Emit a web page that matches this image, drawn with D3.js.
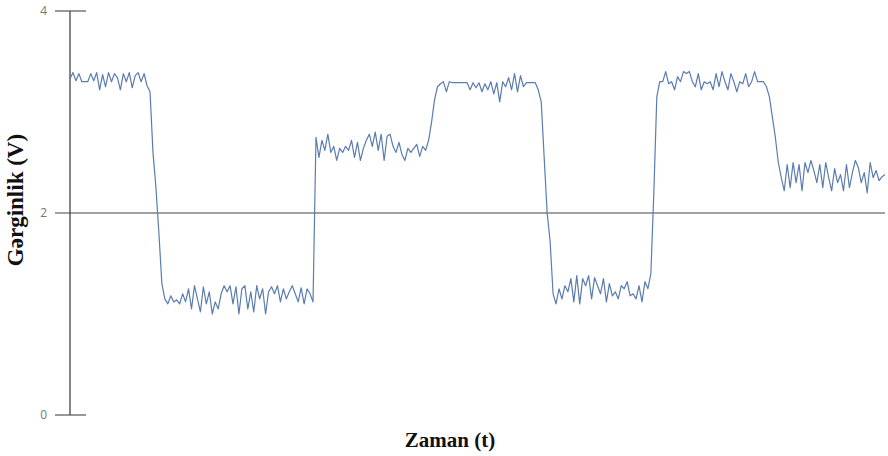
<!DOCTYPE html>
<html>
<head>
<meta charset="utf-8">
<script src="https://cdn.jsdelivr.net/npm/d3@7"></script>
<style>
  html, body { margin: 0; padding: 0; background: #fff; }
  svg { display: block; }
</style>
</head>
<body>
<div id="chart"></div>
<script>
// voltage readings, one block per section of the trace
const high1 = [3.33, 3.39, 3.31, 3.38, 3.30, 3.30, 3.30, 3.38, 3.31, 3.39, 3.22, 3.37, 3.25, 3.39, 3.30, 3.38, 3.34, 3.22, 3.38, 3.30, 3.39, 3.24, 3.36, 3.39, 3.30, 3.38, 3.26];
const fall1 = [3.2, 2.6, 2.25, 1.8, 1.3];
const low1 = [1.15, 1.10, 1.18, 1.12, 1.14, 1.10, 1.20, 1.12, 1.25, 1.05, 1.28, 1.15, 1.02, 1.27, 1.10, 1.22, 1.00, 1.12, 1.05, 1.20, 1.28, 1.22, 1.28, 1.10, 1.27, 1.00, 1.25, 1.28, 1.05, 1.22, 1.02, 1.28, 1.15, 1.25, 1.00, 1.22, 1.27, 1.20, 1.28, 1.12, 1.25, 1.15, 1.22, 1.28, 1.20, 1.12, 1.26, 1.10, 1.25, 1.20, 1.12];
const mid1 = [2.75, 2.55, 2.72, 2.62, 2.78, 2.60, 2.66, 2.52, 2.64, 2.60, 2.66, 2.62, 2.72, 2.55, 2.70, 2.52, 2.64, 2.72, 2.78, 2.66, 2.80, 2.62, 2.78, 2.52, 2.76, 2.78, 2.66, 2.60, 2.70, 2.58, 2.52, 2.64, 2.60, 2.64, 2.68, 2.56, 2.66, 2.62, 2.72];
const rise1 = [2.9, 3.12, 3.25];
const high2 = [3.28, 3.30, 3.20, 3.30, 3.29, 3.29, 3.29, 3.29, 3.29, 3.29, 3.22, 3.29, 3.24, 3.29, 3.20, 3.28, 3.22, 3.30, 3.18, 3.29, 3.10, 3.30, 3.25, 3.34, 3.22, 3.38, 3.20, 3.36, 3.25, 3.29, 3.29, 3.29, 3.29, 3.22];
const fall2 = [3.1, 2.55, 2.0, 1.72, 1.2];
const low2 = [1.10, 1.25, 1.15, 1.28, 1.22, 1.35, 1.12, 1.38, 1.10, 1.35, 1.28, 1.38, 1.15, 1.36, 1.28, 1.20, 1.35, 1.12, 1.30, 1.18, 1.22, 1.15, 1.28, 1.25, 1.32, 1.18, 1.20, 1.15, 1.28, 1.12, 1.32, 1.25, 1.40];
const rise2 = [2.2, 3.15, 3.3];
const high3 = [3.30, 3.40, 3.28, 3.30, 3.22, 3.35, 3.30, 3.40, 3.38, 3.40, 3.30, 3.25, 3.38, 3.22, 3.30, 3.28, 3.30, 3.22, 3.38, 3.25, 3.40, 3.30, 3.22, 3.38, 3.30, 3.20, 3.30, 3.28, 3.38, 3.25, 3.30, 3.40, 3.30, 3.30, 3.30, 3.25];
const fall3 = [3.15, 2.95, 2.75, 2.5];
const mid2 = [2.35, 2.22, 2.48, 2.25, 2.50, 2.30, 2.48, 2.22, 2.50, 2.40, 2.52, 2.42, 2.30, 2.48, 2.25, 2.50, 2.35, 2.22, 2.44, 2.30, 2.38, 2.22, 2.48, 2.25, 2.40, 2.52, 2.45, 2.30, 2.40, 2.20, 2.50, 2.35, 2.42, 2.32, 2.36, 2.38];

const yTicks = [0, 2, 4];
const xTitle = "Zaman (t)";
const yTitle = "Gərginlik (V)";

const voltage = [].concat(high1, fall1, low1, mid1, rise1, high2, fall2, low2, rise2, high3, fall3, mid2);

const width = 888, height = 456;
const axisX = 70;

const svg = d3.select("#chart").append("svg")
  .attr("width", width)
  .attr("height", height);

const x = d3.scaleLinear().domain([0, voltage.length - 1]).range([axisX, 885]);
const y = d3.scaleLinear().domain([0, 4]).range([415, 11]);

// y axis line
svg.append("line")
  .attr("x1", axisX).attr("x2", axisX)
  .attr("y1", y(4)).attr("y2", y(0))
  .attr("stroke", "#333").attr("stroke-width", 1.2);

// ticks (the middle one runs across the whole plot)
const ticks = svg.append("g").selectAll("g").data(yTicks).enter().append("g");
ticks.append("line")
  .attr("x1", 55)
  .attr("x2", d => d === 2 ? 885 : 86)
  .attr("y1", d => y(d)).attr("y2", d => y(d))
  .attr("stroke", "#444").attr("stroke-width", 1.1);
ticks.append("text")
  .attr("x", 47).attr("y", d => y(d))
  .attr("dy", "0.35em")
  .attr("text-anchor", "end")
  .attr("font-family", "Open Sans, sans-serif")
  .attr("font-size", 12)
  .attr("fill", "#777")
  .text(d => d);

// signal trace
const line = d3.line().x((d, i) => x(i)).y(d => y(d));
svg.append("path")
  .datum(voltage)
  .attr("d", line)
  .attr("fill", "none")
  .attr("stroke", "#5a7cb0")
  .attr("stroke-width", 1.2)
  .attr("stroke-linejoin", "round");

// axis titles
svg.append("text")
  .attr("x", 450).attr("y", 447)
  .attr("text-anchor", "middle")
  .attr("font-family", "Liberation Serif, Times New Roman, serif")
  .attr("font-weight", "bold")
  .attr("font-size", 21)
  .attr("fill", "#111")
  .text(xTitle);

svg.append("text")
  .attr("transform", "translate(23,200) rotate(-90)")
  .attr("text-anchor", "middle")
  .attr("font-family", "Liberation Serif, Times New Roman, serif")
  .attr("font-weight", "bold")
  .attr("font-size", 23)
  .attr("fill", "#111")
  .text(yTitle);
</script>
</body>
</html>
